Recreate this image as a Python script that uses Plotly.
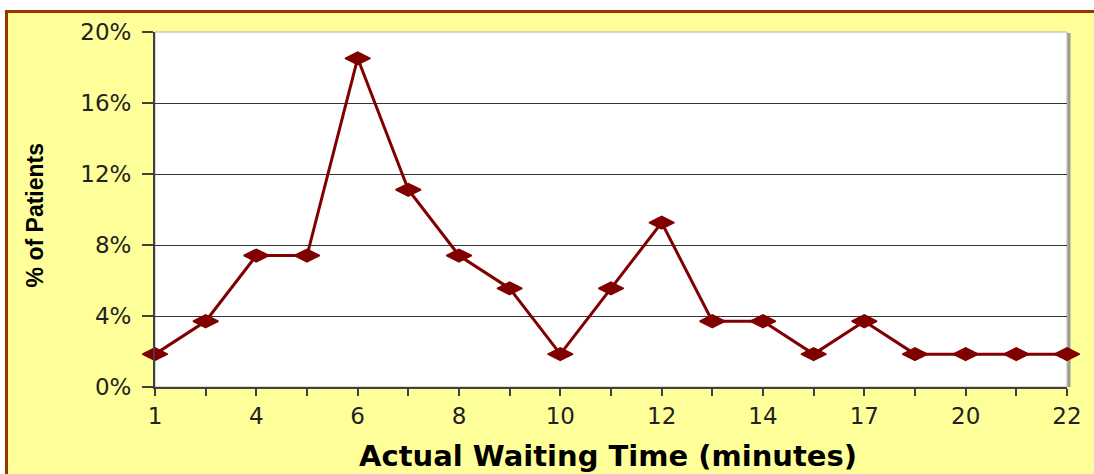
import plotly.graph_objects as go

# Waiting-time distribution
wait_minutes = ["1", "3", "4", "5", "6", "7", "8", "9", "10", "11",
                "12", "13", "14", "16", "17", "18", "20", "21", "22"]
patient_share = [1/54, 2/54, 4/54, 4/54, 10/54, 6/54, 4/54, 3/54, 1/54, 3/54,
                 5/54, 2/54, 2/54, 1/54, 2/54, 1/54, 1/54, 1/54, 1/54]
# only every other category carries a visible label
tick_text = [m if i % 2 == 0 else "" for i, m in enumerate(wait_minutes)]
y_ticks = [0, 0.04, 0.08, 0.12, 0.16, 0.20]

W, H = 1094, 474
ML, MR, MT, MB = 155, 24, 32, 87
PW, PH = W - ML - MR, H - MT - MB


def px(x):
    return (x - ML) / PW


def py(y):
    return (H - MB - y) / PH


fig = go.Figure()
fig.add_trace(go.Scatter(
    x=wait_minutes, y=patient_share, mode="lines+markers",
    line=dict(color="#800000", width=3),
    marker=dict(symbol="diamond-wide", size=18, color="#800000",
                line=dict(color="#800000", width=1.5)),
    cliponaxis=False, hoverinfo="x+y",
))

shapes = [
    # chart background with brown frame
    dict(type="rect", xref="paper", yref="paper", layer="below",
         x0=px(6), x1=px(1120), y0=py(500), y1=py(11.5),
         fillcolor="#FFFF99", line=dict(color="#993300", width=3)),
    # white plot area
    dict(type="rect", xref="paper", yref="paper", layer="below",
         x0=0, x1=1, y0=0, y1=1, fillcolor="white", line=dict(width=0)),
    # plot-area frame and shadow
    dict(type="rect", xref="paper", yref="paper", layer="between",
         x0=0, x1=1, y0=0, y1=1, line=dict(color="#b0b0b0", width=1)),
    dict(type="line", xref="paper", yref="paper", layer="between",
         x0=px(W - MR + 2), x1=px(W - MR + 2), y0=py(H - MB), y1=py(MT + 1),
         line=dict(color="#9a9a9a", width=3)),
]

fig.update_layout(
    width=W, height=H,
    margin=dict(l=ML, r=MR, t=MT, b=MB, pad=0),
    paper_bgcolor="white", plot_bgcolor="white",
    showlegend=False, shapes=shapes,
    font=dict(family="DejaVu Sans, Arial, sans-serif", color="#222222"),
    xaxis=dict(
        type="category", range=[0, len(wait_minutes) - 1],
        tickmode="array", tickvals=wait_minutes, ticktext=tick_text,
        ticks="outside", ticklen=7, tickwidth=2, tickcolor="#404040",
        showline=True, linecolor="#404040", linewidth=2,
        showgrid=False, zeroline=False,
        tickfont=dict(size=23, color="#222222"), ticklabelstandoff=0,
    ),
    yaxis=dict(
        range=[0, 0.2], tickmode="array", tickvals=y_ticks,
        tickformat=".0%", ticks="outside", ticklen=11, tickwidth=2,
        tickcolor="#404040",
        showline=True, linecolor="#404040", linewidth=2,
        showgrid=True, gridcolor="#333333", gridwidth=1, zeroline=False,
        tickfont=dict(size=23, color="#222222"), ticklabelstandoff=6,
    ),
    annotations=[
        dict(text="<b>Actual Waiting Time (minutes)</b>", xref="paper", yref="paper",
             x=px(609), y=py(456), showarrow=False, xanchor="center", yanchor="middle",
             font=dict(family="DejaVu Sans", size=29, color="black")),
        dict(text="<b>% of Patients</b>", xref="paper", yref="paper",
             x=px(35), y=py(215), showarrow=False, xanchor="center", yanchor="middle",
             textangle=-90,
             font=dict(family="Liberation Sans, Arial", size=23, color="black")),
    ],
)

fig.write_html("out.html")
